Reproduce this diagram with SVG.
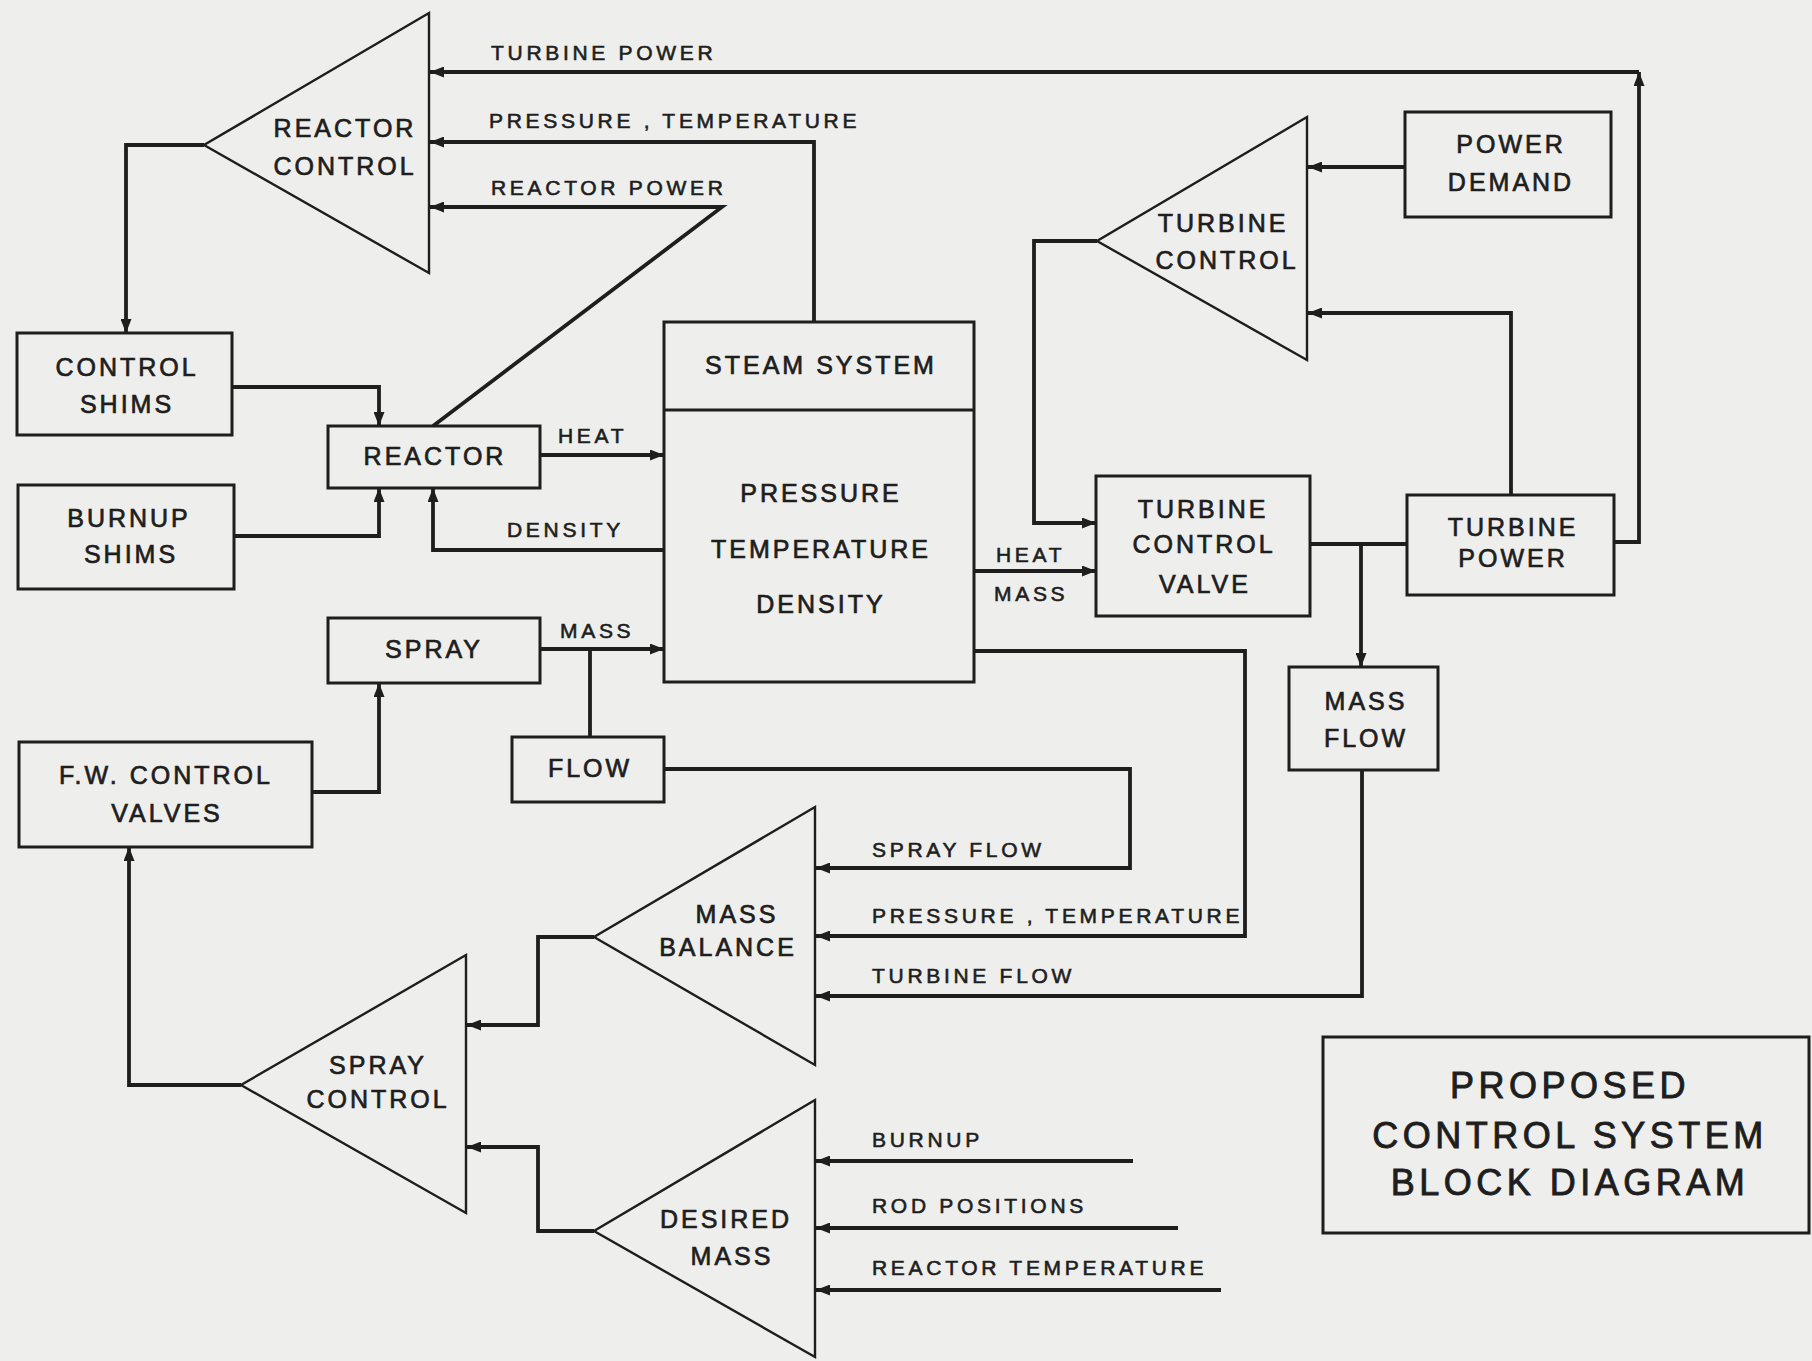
<svg xmlns="http://www.w3.org/2000/svg" width="1812" height="1361" viewBox="0 0 1812 1361">
<style>
.bg{fill:#eeeeec}
.box{fill:none;stroke:#1e1e1e;stroke-width:3}
.tri{fill:none;stroke:#1e1e1e;stroke-width:2.4;stroke-linejoin:miter}
.c{fill:none;stroke:#1e1e1e;stroke-width:3.8;stroke-linejoin:miter}
.n{font-family:"Liberation Sans",Arial,sans-serif;font-size:25px;letter-spacing:3px;fill:#1e1e1e;stroke:#1e1e1e;stroke-width:0.7px;text-anchor:middle}
.s{font-family:"Liberation Sans",Arial,sans-serif;font-size:21px;letter-spacing:3.7px;fill:#1e1e1e;stroke:#1e1e1e;stroke-width:0.6px}
.t{font-family:"Liberation Sans",Arial,sans-serif;font-size:36px;letter-spacing:4.5px;fill:#1e1e1e;stroke:#1e1e1e;stroke-width:0.9px;text-anchor:middle}
</style>
<defs>
<marker id="a" markerWidth="15" markerHeight="11" refX="14" refY="5.5" orient="auto" markerUnits="userSpaceOnUse">
<path d="M0,0 L14,5.5 L0,11 z" fill="#1e1e1e"/>
</marker>
</defs>
<rect class="bg" x="0" y="0" width="1812" height="1361"/>

<g id="connectors">
<path class="c" d="M1614,542 H1639 V72" marker-end="url(#a)"/>
<path class="c" d="M1639,72 H430" marker-end="url(#a)"/>
<path class="c" d="M814,322 V142 H430" marker-end="url(#a)"/>
<path class="c" d="M433,426 L722,207 H430" marker-end="url(#a)"/>
<path class="c" d="M204,145 H126 V333" marker-end="url(#a)"/>
<path class="c" d="M232,387 H379 V426" marker-end="url(#a)"/>
<path class="c" d="M234,536 H379 V488" marker-end="url(#a)"/>
<path class="c" d="M664,550 H433 V488" marker-end="url(#a)"/>
<path class="c" d="M540,455 H664" marker-end="url(#a)"/>
<path class="c" d="M540,649 H664" marker-end="url(#a)"/>
<path class="c" d="M590,649 V737"/>
<path class="c" d="M664,769 H1130 V868 H816" marker-end="url(#a)"/>
<path class="c" d="M312,792 H379 V683" marker-end="url(#a)"/>
<path class="c" d="M974,651 H1245 V936 H816" marker-end="url(#a)"/>
<path class="c" d="M1362,770 V996 H816" marker-end="url(#a)"/>
<path class="c" d="M594,937 H538 V1025 H467" marker-end="url(#a)"/>
<path class="c" d="M594,1231 H538 V1147 H467" marker-end="url(#a)"/>
<path class="c" d="M241,1085 H129 V847" marker-end="url(#a)"/>
<path class="c" d="M1133,1161 H816" marker-end="url(#a)"/>
<path class="c" d="M1178,1228 H816" marker-end="url(#a)"/>
<path class="c" d="M1221,1290 H816" marker-end="url(#a)"/>
<path class="c" d="M974,571 H1096" marker-end="url(#a)"/>
<path class="c" d="M1097,241 H1034 V523 H1096" marker-end="url(#a)"/>
<path class="c" d="M1405,167 H1308" marker-end="url(#a)"/>
<path class="c" d="M1511,495 V313 H1308" marker-end="url(#a)"/>
<path class="c" d="M1310,544 H1407"/>
<path class="c" d="M1361,544 V667" marker-end="url(#a)"/>
</g>

<g id="edge-labels">
<text class="s" x="491" y="60">TURBINE POWER</text>
<text class="s" x="489" y="128">PRESSURE , TEMPERATURE</text>
<text class="s" x="491" y="195">REACTOR POWER</text>
<text class="s" x="558" y="443">HEAT</text>
<text class="s" x="507" y="537">DENSITY</text>
<text class="s" x="560" y="638">MASS</text>
<text class="s" x="996" y="562">HEAT</text>
<text class="s" x="994" y="601">MASS</text>
<text class="s" x="872" y="857">SPRAY FLOW</text>
<text class="s" x="872" y="923">PRESSURE , TEMPERATURE</text>
<text class="s" x="872" y="983">TURBINE FLOW</text>
<text class="s" x="872" y="1147">BURNUP</text>
<text class="s" x="872" y="1213">ROD POSITIONS</text>
<text class="s" x="872" y="1275">REACTOR TEMPERATURE</text>
</g>

<g id="reactor-control">
<path class="tri" d="M429,13 L204,145 L429,273 Z"/>
<text class="n" x="345" y="137">REACTOR</text>
<text class="n" x="345" y="175">CONTROL</text>
</g>
<g id="control-shims">
<rect class="box" x="17" y="333" width="215" height="102"/>
<text class="n" x="127" y="376">CONTROL</text>
<text class="n" x="127" y="413">SHIMS</text>
</g>
<g id="reactor">
<rect class="box" x="328" y="426" width="212" height="62"/>
<text class="n" x="435" y="465">REACTOR</text>
</g>
<g id="burnup-shims">
<rect class="box" x="18" y="485" width="216" height="104"/>
<text class="n" x="129" y="527">BURNUP</text>
<text class="n" x="131" y="563">SHIMS</text>
</g>
<g id="steam-system">
<rect class="box" x="664" y="322" width="310" height="360"/>
<line class="box" x1="664" y1="410" x2="974" y2="410"/>
<text class="n" x="821" y="374">STEAM SYSTEM</text>
<text class="n" x="821" y="502">PRESSURE</text>
<text class="n" x="821" y="558">TEMPERATURE</text>
<text class="n" x="821" y="613">DENSITY</text>
</g>
<g id="spray">
<rect class="box" x="328" y="618" width="212" height="65"/>
<text class="n" x="434" y="658">SPRAY</text>
</g>
<g id="flow">
<rect class="box" x="512" y="737" width="152" height="65"/>
<text class="n" x="590" y="777">FLOW</text>
</g>
<g id="fw-control-valves">
<rect class="box" x="19" y="742" width="293" height="105"/>
<text class="n" x="166" y="784">F.W. CONTROL</text>
<text class="n" x="167" y="822">VALVES</text>
</g>
<g id="turbine-control">
<path class="tri" d="M1307,117 L1097,241 L1307,360 Z"/>
<text class="n" x="1223" y="232">TURBINE</text>
<text class="n" x="1227" y="269">CONTROL</text>
</g>
<g id="power-demand">
<rect class="box" x="1405" y="112" width="206" height="105"/>
<text class="n" x="1511" y="153">POWER</text>
<text class="n" x="1511" y="191">DEMAND</text>
</g>
<g id="turbine-control-valve">
<rect class="box" x="1096" y="476" width="214" height="140"/>
<text class="n" x="1203" y="518">TURBINE</text>
<text class="n" x="1204" y="553">CONTROL</text>
<text class="n" x="1205" y="593">VALVE</text>
</g>
<g id="turbine-power">
<rect class="box" x="1407" y="495" width="207" height="100"/>
<text class="n" x="1513" y="536">TURBINE</text>
<text class="n" x="1513" y="567">POWER</text>
</g>
<g id="mass-flow">
<rect class="box" x="1289" y="667" width="149" height="103"/>
<text class="n" x="1366" y="710">MASS</text>
<text class="n" x="1366" y="747">FLOW</text>
</g>
<g id="mass-balance">
<path class="tri" d="M815,807 L594,937 L815,1065 Z"/>
<text class="n" x="737" y="923">MASS</text>
<text class="n" x="728" y="956">BALANCE</text>
</g>
<g id="spray-control">
<path class="tri" d="M466,955 L241,1085 L466,1213 Z"/>
<text class="n" x="378" y="1074">SPRAY</text>
<text class="n" x="378" y="1108">CONTROL</text>
</g>
<g id="desired-mass">
<path class="tri" d="M815,1100 L594,1231 L815,1357 Z"/>
<text class="n" x="726" y="1228">DESIRED</text>
<text class="n" x="732" y="1265">MASS</text>
</g>
<g id="title">
<rect class="box" x="1323" y="1037" width="486" height="196"/>
<text class="t" x="1570" y="1098">PROPOSED</text>
<text class="t" x="1570" y="1148">CONTROL SYSTEM</text>
<text class="t" x="1570" y="1195">BLOCK DIAGRAM</text>
</g>
</svg>
